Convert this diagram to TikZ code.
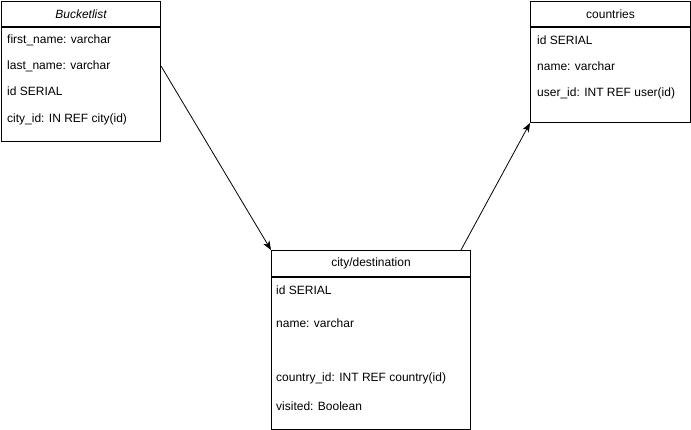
\documentclass[tikz,border=0pt]{standalone}
\usepackage{fontspec}
\setmainfont{Liberation Sans}
\usepackage{tikz}
\usetikzlibrary{arrows.meta,positioning,calc}

\begin{document}
\begin{tikzpicture}[x=1pt, y=-1pt,
  hdr/.style={draw, line width=1pt, anchor=north west, inner sep=0pt,
    minimum height=25pt, font=\fontsize{12}{14}\selectfont},
  body/.style={draw, line width=1pt, anchor=north, inner sep=0pt},
  field/.style={anchor=west, inner sep=0pt, font=\fontsize{12}{14}\selectfont},
  arr/.style={-{Stealth[length=9pt, width=7pt, inset=2.5pt]}, line width=0.8pt},
]
\useasboundingbox (0,0) rectangle (691,429);
% Bucketlist
\node[hdr, minimum width=159pt, font=\fontsize{12}{14}\selectfont\itshape] (buckethdr) at (1,1) {Bucketlist};
\node[body, minimum width=159pt, minimum height=114pt] (bucketbody) at (buckethdr.south) {};
\node[field] (bfirst) at (7,40) {first\_name: varchar};
\node[field] (blast) at (7,66) {last\_name: varchar};
\node[field] (bid) at (7,91) {id SERIAL};
\node[field] (bcity) at (7,119) {city\_id: IN REF city(id)};
% countries
\node[hdr, minimum width=160pt] (countryhdr) at (530,1) {countries};
\node[body, minimum width=160pt, minimum height=95pt] (countrybody) at (countryhdr.south) {};
\node[field] (cid) at (537,40) {id SERIAL};
\node[field] (cname) at (537,66) {name: varchar};
\node[field] (cuser) at (537,93) {user\_id: INT REF user(id)};
% city/destination
\node[hdr, minimum width=199pt, minimum height=26pt] (cityhdr) at (271,250) {city/destination};
\node[body, minimum width=199pt, minimum height=152pt] (citybody) at (cityhdr.south) {};
\node[field] (tid) at (276,290) {id SERIAL};
\node[field] (tname) at (276,323) {name: varchar};
\node[field] (tcountry) at (276,378) {country\_id: INT REF country(id)};
\node[field] (tvisited) at (276,406) {visited: Boolean};
% connectors
\coordinate (bout) at (bucketbody.east |- blast);
\coordinate (cout) at ($(cityhdr.north west)!0.95!(cityhdr.north east)$);
\draw[arr] (bout) -- (cityhdr.north west);
\draw[arr] (cout) -- (countrybody.south west);
\end{tikzpicture}
\end{document}
